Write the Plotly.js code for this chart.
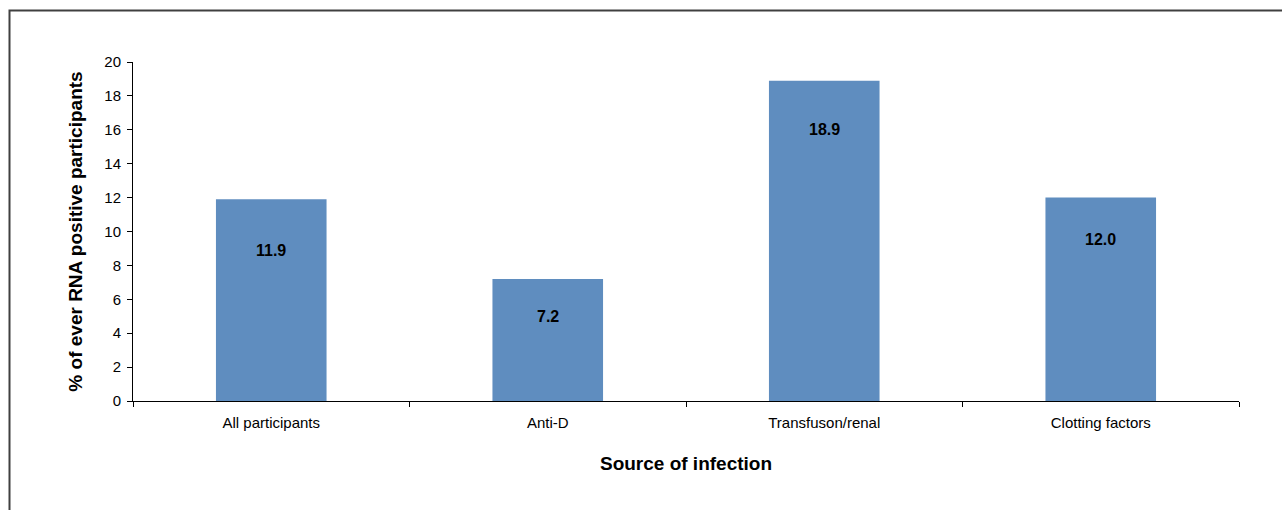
<!DOCTYPE html>
<html>
<head>
<meta charset="utf-8">
<script src="https://cdn.plot.ly/plotly-3.0.1.min.js"></script>
<style>
  html, body { margin: 0; padding: 0; background: #fff; }
  #chart { width: 1282px; height: 510px; }
</style>
</head>
<body>
<div id="chart"></div>
<script>
// Source of infection categories and share of ever RNA-positive participants (%)
const categories = ["All participants", "Anti-D", "Transfuson/renal", "Clotting factors"];
const percentPositive = [11.9, 7.2, 18.9, 12.0];
const yTicks = [0, 2, 4, 6, 8, 10, 12, 14, 16, 18, 20];

// vertical offset (px) of each value label below the top of its bar
const labelDrop = [-51, -38, -49, -42];

const W = 1282, H = 510;
const m = { l: 133, r: 43, t: 62, b: 109 };
const pw = W - m.l - m.r, ph = H - m.t - m.b;

const trace = {
  type: "bar",
  x: categories,
  y: percentPositive,
  marker: { color: "#5f8dbf", line: { width: 0 } },
  hoverinfo: "x+y"
};

const annotations = categories.map((c, i) => ({
  x: c, y: percentPositive[i], xref: "x", yref: "y",
  text: "<b>" + percentPositive[i].toFixed(1) + "</b>",
  showarrow: false, yshift: labelDrop[i],
  font: { family: "Liberation Sans, Arial, sans-serif", size: 16, color: "#000" }
}));

const layout = {
  width: W, height: H,
  margin: m,
  paper_bgcolor: "#fff", plot_bgcolor: "#fff",
  bargap: 0.6,
  showlegend: false,
  font: { family: "Liberation Sans, Arial, sans-serif", size: 15, color: "#000" },
  xaxis: {
    type: "category",
    showgrid: false, zeroline: false,
    showline: true, linecolor: "#000", linewidth: 1,
    ticks: "outside", ticklen: 5, tickcolor: "#000", tickson: "boundaries",
    ticklabelstandoff: 8,
    tickfont: { size: 15 },
    title: { text: "<b>Source of infection</b>", font: { size: 19 }, standoff: 26 }
  },
  yaxis: {
    range: [0, 20],
    tickvals: yTicks,
    showgrid: false, zeroline: false,
    showline: true, linecolor: "#000", linewidth: 1,
    ticks: "outside", ticklen: 5, tickcolor: "#000",
    ticklabelstandoff: 3,
    tickfont: { size: 15 },
    title: { text: "<b>% of ever RNA positive participants</b>", font: { size: 19 }, standoff: 16 }
  },
  annotations: annotations,
  shapes: [{
    type: "rect", xref: "paper", yref: "paper", layer: "below",
    x0: (9.5 - m.l) / pw, x1: (W + 20 - m.l) / pw,
    y0: -(H + 20 - m.t - ph) / ph, y1: (ph + m.t - 10.5) / ph,
    line: { color: "#404040", width: 2 }, fillcolor: "rgba(0,0,0,0)"
  }]
};

Plotly.newPlot("chart", [trace], layout, { displayModeBar: false, staticPlot: true });
</script>
</body>
</html>
